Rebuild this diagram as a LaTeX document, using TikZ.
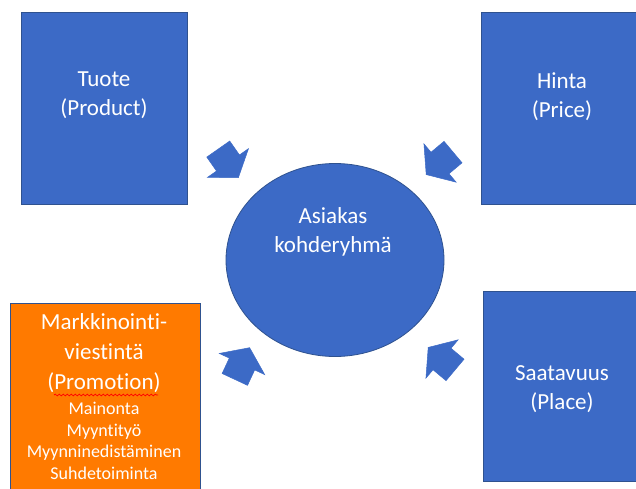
\documentclass[tikz,border=0pt]{standalone}
\usepackage{fontspec}
\setmainfont{Carlito}[Ligatures=NoCommon]
\usetikzlibrary{decorations.pathmorphing,shapes.geometric}
\definecolor{boxblue}{RGB}{60,106,198}
\definecolor{edgeblue}{RGB}{47,82,143}
\definecolor{promo}{RGB}{255,122,0}
\tikzset{
  box/.style={draw=edgeblue, line width=0.8pt, fill=boxblue, inner sep=0pt},
  promobox/.style={draw=edgeblue, line width=0.8pt, fill=promo, inner sep=0pt},
  lbl/.style={text=white, font=\fontsize{23}{29}\selectfont, align=center, inner sep=0pt},
  small/.style={text=white, font=\fontsize{18}{21.7}\selectfont, align=center, inner sep=0pt},
  blk/.style={fill=boxblue, draw=boxblue, line width=0.5pt, line join=miter},
  wavy/.style={red, line width=0.7pt, decorate, decoration={snake, segment length=4pt, amplitude=0.9pt}}
}
\newcommand\blockarrow[3]{%
  \begin{scope}[shift={(#1,#2)}, rotate=#3]
    \path[blk] (-17,14) -- (0,14) -- (0,25) -- (18,0) -- (0,-25) -- (0,-14) -- (-17,-14) -- cycle;
  \end{scope}}
\begin{document}
\begin{tikzpicture}[x=1pt, y=-1pt]
  \useasboundingbox (0,0) rectangle (636,489);
  \clip (0,0) rectangle (636,489);
  \fill[white] (0,0) rectangle (636,489);

  % boxes
  \node[box, anchor=north west, minimum width=166pt, minimum height=192pt] (tuote) at (21,12) {};
  \node[box, anchor=north west, minimum width=164pt, minimum height=192pt] (hinta) at (481,12) {};
  \node[box, anchor=north west, minimum width=160pt, minimum height=190pt] (saatavuus) at (483,291) {};
  \node[promobox, anchor=north west, minimum width=190pt, minimum height=200pt] (promotion) at (9.5,303) {};
  \node[draw=edgeblue, line width=0.8pt, fill=boxblue, ellipse, minimum width=218pt, minimum height=193pt, inner sep=0pt] (asiakas) at (335,260) {};

  % texts
  \node[lbl] (tuoteT) at (104,95) {Tuote\\(Product)};
  \node[lbl] (hintaT) at (562,96.5) {Hinta\\(Price)};
  \node[lbl] (saatT) at (562,389) {Saatavuus\\(Place)};
  \node[lbl] (asiakasT) at (333,232) {Asiakas\\kohderyhmä};
  \node[lbl, font=\fontsize{23}{30}\selectfont] (promoT) at (104,353) {Markkinointi-\\viestintä\\(Promotion)};
  \node[small] (promoS) at (104,441) {Mainonta\\Myyntityö\\Myynninedistäminen\\Suhdetoiminta};
  \draw[wavy] (54,395) -- (158,395);

  % block arrows
  \blockarrow{228}{163}{-55}
  \blockarrow{440}{163}{-140}
  \blockarrow{442}{359}{140}
  \blockarrow{242}{364}{65}
\end{tikzpicture}
\end{document}
